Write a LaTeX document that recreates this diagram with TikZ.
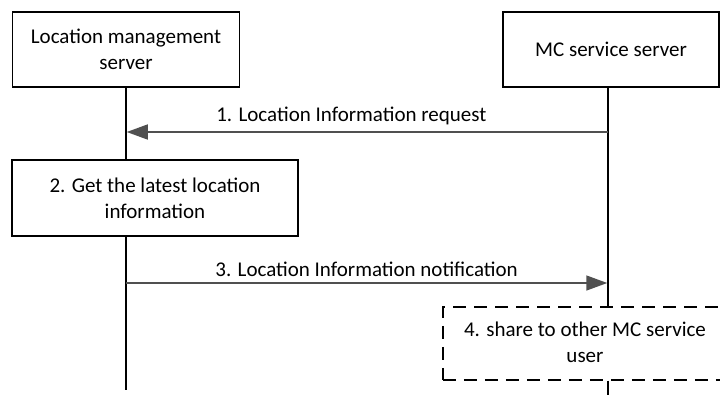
\documentclass[tikz,border=0pt]{standalone}
\usepackage{fontspec}
\setmainfont{Carlito}
\usetikzlibrary{arrows.meta}
\definecolor{arrowgray}{HTML}{505050}
\tikzset{
  box/.style={draw=black, line width=1.5pt, fill=white, inner sep=0pt, align=center, font=\fontsize{21}{26}\selectfont},
  dashbox/.style={box, dash pattern=on 13pt off 8pt},
  life/.style={draw=black, line width=1.6pt},
  msg/.style={draw=arrowgray, line width=1.5pt, -{Triangle[length=21pt,width=15pt]}},
  lbl/.style={font=\fontsize{21}{26}\selectfont, inner sep=0pt}
}
\begin{document}
\begin{tikzpicture}[x=1pt,y=-1pt]
\useasboundingbox (0,0) rectangle (720,394);
\begin{scope}
\clip (0,0) rectangle (720,394);
\coordinate (lmsEnd) at (126,390);
\coordinate (mcEnd) at (608,396);
\node[box, minimum width=227pt, minimum height=75pt] (lms) at (126,49.5) {Location management\\server};
\node[box, minimum width=216pt, minimum height=75pt] (mc) at (611,49.5) {MC service server};
\node[box, minimum width=286pt, minimum height=76pt] (get) at (155,198) {2. Get the latest location\\information};
\node[dashbox, minimum width=290pt, minimum height=73pt, anchor=north west] (share) at (442,306) {};
\node[lbl, align=center] (sharetxt) at (585,342.5) {4. share to other MC service\\user};
\draw[life] (lms.south -| lmsEnd) -- (get.north -| lmsEnd);
\draw[life] (get.south -| lmsEnd) -- (lmsEnd);
\draw[life] (mc.south -| mcEnd) -- (share.north -| mcEnd);
\draw[life] (share.south -| mcEnd) -- (mcEnd);
\coordinate (m1r) at (608,132);
\coordinate (m1l) at (126.75,132);
\draw[msg] (m1r) -- (m1l) node[lbl, pos=0.5, above=6pt, xshift=-16pt] (l1) {1. Location Information request};
\coordinate (m3l) at (126,283);
\coordinate (m3r) at (607.25,283);
\draw[msg] (m3l) -- (m3r) node[lbl, pos=0.5, above=6pt] (l3) {3. Location Information notification};
\end{scope}
\end{tikzpicture}
\end{document}
